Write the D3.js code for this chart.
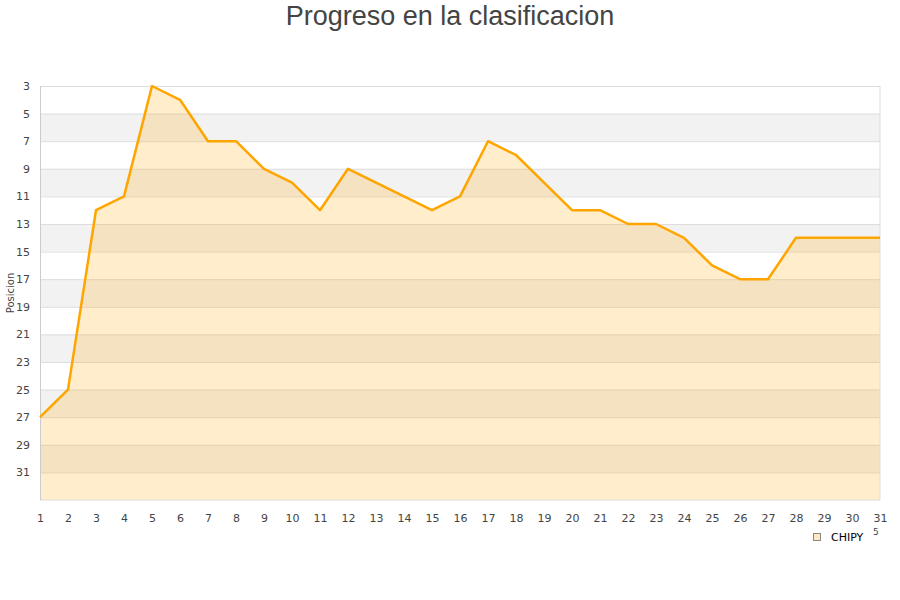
<!DOCTYPE html>
<html>
<head>
<meta charset="utf-8">
<script src="https://cdn.jsdelivr.net/npm/d3@7"></script>
<style>
  body { margin: 0; background: #fff; }
  svg text { font-family: "DejaVu Sans", sans-serif; }
</style>
</head>
<body>
<div id="chart"></div>
<script>
// Jornadas y posiciones
var jornadas = d3.range(1, 32);
var posiciones = [27, 25, 12, 11, 3, 4, 7, 7, 9, 10, 12, 9, 10, 11, 12, 11, 7, 8, 10, 12, 12, 13, 13, 14, 16, 17, 17, 14, 14, 14, 14];
var yTicks = [3, 5, 7, 9, 11, 13, 15, 17, 19, 21, 23, 25, 27, 29, 31];
var serie = "CHIPY";

var svgWidth = 900;
var svgHeight = 600;
var margin = { top: 86, right: 20, bottom: 100, left: 40 };
var width = svgWidth - margin.left - margin.right;
var height = svgHeight - margin.top - margin.bottom;

var svg = d3.select("#chart")
    .append("svg")
    .attr("width", svgWidth)
    .attr("height", svgHeight);

var chartGroup = svg.append("g")
    .attr("transform", `translate(${margin.left}, ${margin.top})`);

var xScale = d3.scaleLinear().domain([1, 31]).range([0, width]);
var yScale = d3.scaleLinear().domain([3, 33]).range([0, height]);

// bandas alternas
var bandas = d3.range(3, 33, 2);
chartGroup.selectAll(".band")
    .data(bandas)
    .enter()
    .append("rect")
    .attr("x", 0)
    .attr("y", d => yScale(d))
    .attr("width", width)
    .attr("height", d => yScale(d + 2) - yScale(d))
    .attr("fill", (d, i) => i % 2 === 1 ? "#f2f2f2" : "#ffffff");

// lineas de la rejilla
chartGroup.selectAll(".grid")
    .data(yTicks)
    .enter()
    .append("line")
    .attr("x1", 0)
    .attr("x2", width)
    .attr("y1", d => yScale(d) + 0.5)
    .attr("y2", d => yScale(d) + 0.5)
    .attr("stroke", "#dddddd")
    .attr("stroke-width", 1);

// area
var area = d3.area()
    .x((d, i) => xScale(jornadas[i]))
    .y0(height)
    .y1(d => yScale(d));

chartGroup.append("path")
    .datum(posiciones)
    .attr("d", area)
    .attr("fill", "rgb(255, 165, 0)")
    .attr("fill-opacity", 0.2);

// borde del grafico
chartGroup.append("rect")
    .attr("x", 0.5)
    .attr("y", 0.5)
    .attr("width", width - 0.5)
    .attr("height", height - 0.5)
    .attr("fill", "none")
    .attr("stroke", "#dddddd");

chartGroup.append("line")
    .attr("x1", 0.5).attr("x2", 0.5)
    .attr("y1", 0).attr("y2", height)
    .attr("stroke", "#cccccc");

// linea
var line = d3.line()
    .x((d, i) => xScale(jornadas[i]))
    .y(d => yScale(d));

chartGroup.append("path")
    .datum(posiciones)
    .attr("d", line)
    .attr("fill", "none")
    .attr("stroke", "#ffa500")
    .attr("stroke-width", 2.5)
    .attr("stroke-linejoin", "round");

// eje y
var yAxis = chartGroup.append("g")
    .call(d3.axisLeft(yScale).tickValues(yTicks).tickSize(0).tickPadding(10));
yAxis.select(".domain").remove();
yAxis.selectAll("text")
    .style("font-size", "11px")
    .attr("fill", "#444");

// eje x
var xAxis = chartGroup.append("g")
    .attr("transform", `translate(0, ${height})`)
    .call(d3.axisBottom(xScale).tickValues(jornadas).tickFormat(d3.format("d")).tickSize(0).tickPadding(14));
xAxis.select(".domain").remove();
xAxis.selectAll("text")
    .style("font-size", "11px")
    .attr("fill", "#444");

// titulo eje y
svg.append("text")
    .attr("transform", "rotate(-90)")
    .attr("x", -293)
    .attr("y", 14)
    .attr("text-anchor", "middle")
    .style("font-size", "10px")
    .attr("fill", "#444")
    .text("Posicion");

// titulo
svg.append("text")
    .attr("x", 450)
    .attr("y", 25)
    .attr("text-anchor", "middle")
    .style("font-family", "'Liberation Sans', Arial, sans-serif")
    .style("font-size", "27px")
    .attr("fill", "#444")
    .text("Progreso en la clasificacion");

// leyenda
var legend = svg.append("g").attr("transform", "translate(813, 533)");
legend.append("rect")
    .attr("x", 0.5)
    .attr("y", 0.5)
    .attr("width", 7)
    .attr("height", 7)
    .attr("fill", "#ffe9c2")
    .attr("stroke", "#888");
legend.append("text")
    .attr("x", 18)
    .attr("y", 8)
    .style("font-size", "11px")
    .attr("fill", "#000")
    .text(serie);
legend.append("text")
    .attr("x", 60)
    .attr("y", 2)
    .style("font-size", "9px")
    .attr("fill", "#444")
    .text("5");
</script>
</body>
</html>
